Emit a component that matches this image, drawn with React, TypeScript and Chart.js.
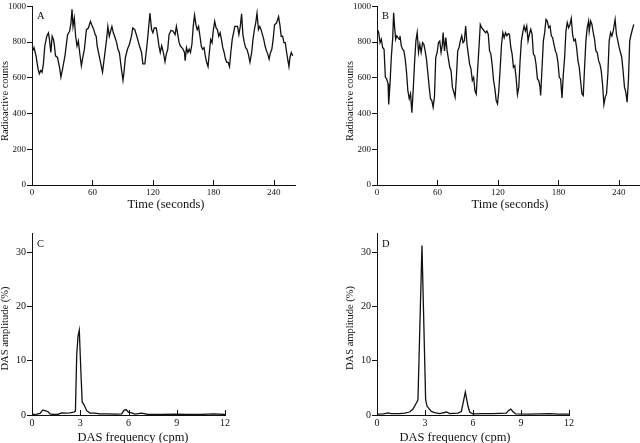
import React, { useEffect, useRef } from "react";
import { Chart, registerables } from "chart.js";

Chart.register(...registerables);

// ---- Panel A: radioactive counts over time ----
const timeA = [
  0.7, 2, 4, 6, 7.3, 8.7, 10, 11.3, 12.7, 14.7,
  16.3, 17.3, 18.7, 20, 21.3, 22.3, 23.3, 25.3, 27.3, 28.7,
  30, 32.7, 35.3, 37.3, 38.7, 39.7, 40.7, 42, 43.3, 44.7,
  46, 47.3, 49, 50.7, 52, 54, 56, 58, 59.3, 61.3,
  62.7, 63.7, 64.7, 66.7, 68.7, 70, 72, 74, 75.3, 76.7,
  78, 79.3, 80.7, 82, 84, 85.3, 86.7, 88.7, 90.3, 91.3,
  92.7, 94.7, 96.7, 98.7, 100, 102, 104, 106.7, 108.7, 110,
  112, 114, 115.3, 117, 118.7, 120, 121.3, 123.3, 124.7, 126,
  127.3, 128.7, 130.5, 132, 133.3, 134.7, 136, 138, 140, 142,
  143.3, 144.7, 146, 147.3, 148.7, 150, 151.3, 152, 153.3, 154.7,
  156, 157.3, 158.7, 160, 161.3, 162.7, 164, 165.3, 166.7, 168,
  169.3, 170.7, 172, 173.3, 174.7, 176, 177.3, 178.7, 180, 181.3,
  182.7, 184, 185.3, 186.7, 188, 189.3, 190.7, 192, 193.3, 194.7,
  196, 197.3, 198.7, 200, 201.3, 202.7, 204, 205.3, 206.7, 208,
  209.3, 210.7, 212, 213.3, 214.7, 216.3, 218, 219.3, 220.7, 222,
  223.3, 224.7, 226, 227.3, 228.7, 230, 231.3, 232.7, 234, 235.3,
  236.7, 238, 239.3, 240.7, 242.7, 244.7, 246, 247.3, 248.7, 250,
  251.3, 252.7, 254, 255, 256, 257.3, 258.7,
];
const countsA = [
  751, 769, 723, 650, 623, 641, 632, 678, 778, 833,
  852, 815, 742, 833, 815, 778, 723, 714, 659, 604,
  641, 723, 842, 861, 907, 984, 888, 934, 833, 778,
  806, 742, 668, 723, 760, 870, 879, 916, 897, 870,
  842, 833, 778, 723, 668, 632, 723, 815, 888, 833,
  861, 888, 852, 833, 797, 760, 742, 650, 586, 632,
  714, 760, 788, 833, 879, 870, 833, 778, 742, 678,
  678, 778, 852, 962, 870, 852, 879, 879, 833, 778,
  742, 780, 738, 690, 733, 760, 842, 866, 861, 842,
  888, 842, 797, 778, 769, 760, 742, 696, 769, 742,
  760, 742, 788, 888, 952, 897, 870, 888, 833, 778,
  760, 769, 723, 687, 663, 742, 815, 797, 870, 916,
  879, 870, 833, 852, 815, 769, 742, 705, 687, 687,
  663, 742, 815, 852, 888, 888, 888, 842, 888, 958,
  842, 797, 769, 760, 733, 687, 742, 815, 870, 907,
  962, 870, 888, 870, 842, 815, 778, 751, 733, 705,
  742, 760, 815, 897, 907, 943, 897, 833, 833, 797,
  797, 742, 696, 663, 714, 742, 723,
];

// ---- Panel B ----
const timeB = [
  0.3, 1.7, 3, 4.3, 5.6, 7, 8.3, 9.6, 11, 11.6,
  12.9, 14.2, 15.6, 16.5, 17.5, 18.5, 19.5, 20.8, 22.1, 22.8,
  24.1, 25.4, 26.7, 28, 29.3, 30.6, 32, 33.3, 34.6, 35.9,
  37.2, 38.6, 39.9, 41.2, 42.5, 43.8, 45.2, 46.5, 47.8, 49.1,
  50.4, 51.8, 53.1, 54.4, 55.7, 57, 58.3, 59.7, 61, 62.3,
  63.6, 64.9, 65.6, 67, 68.3, 69.6, 70.9, 72.2, 73.5, 74.8,
  76.2, 77.5, 78.8, 80.1, 81.4, 82.7, 84.1, 85.4, 86.7, 88,
  89.3, 90.6, 91.9, 93.3, 94.6, 95.9, 97.2, 98.5, 99.8, 101.2,
  102.5, 103.8, 105.1, 106.4, 107.8, 109.1, 110.4, 111.7, 113, 114.4,
  115.7, 117, 118.3, 119.6, 120.9, 122.3, 123.6, 124.9, 126.2, 127.5,
  128.9, 130.2, 131.4, 132.8, 134.1, 135.4, 136.7, 138, 139.4, 140.7,
  142, 143.3, 144.6, 146, 147.3, 148.6, 149.9, 151.2, 152.6, 153.9,
  155.2, 156.5, 157.8, 159.2, 160.5, 161.8, 162.4, 163.8, 165.1, 166.4,
  167.7, 169, 170.4, 171.7, 173, 174.3, 175.6, 177, 178.3, 179.6,
  180.9, 182.2, 183.6, 184.9, 186.2, 187.5, 188.8, 190.2, 191.5, 192.8,
  194.1, 195.4, 196.8, 198.1, 199.4, 200.7, 202, 203.4, 204.7, 206,
  207.3, 208.6, 210, 210.6, 212, 213.3, 214.6, 215.9, 217.2, 218.6,
  219.9, 221.2, 222.5, 223.8, 225.2, 226.5, 227.8, 229.1, 230.4, 231.8,
  233.1, 234.4, 236.3, 237.6, 239, 240.3, 241.6, 242.9, 244.2, 245.6,
  246.9, 248.2, 249.5, 250.8, 252.2, 253.5, 254.8,
];
const countsB = [
  872, 853, 797, 816, 770, 760, 603, 594, 566, 451,
  566, 714, 825, 964, 881, 816, 835, 825, 816, 835,
  779, 760, 751, 705, 631, 529, 483, 510, 405, 529,
  677, 807, 853, 742, 788, 742, 797, 788, 751, 705,
  631, 548, 483, 473, 436, 492, 714, 742, 797, 807,
  742, 788, 853, 751, 825, 751, 705, 659, 640, 548,
  520, 492, 603, 751, 770, 807, 835, 797, 807, 890,
  788, 733, 677, 649, 585, 603, 529, 510, 640, 770,
  899, 881, 872, 862, 853, 862, 844, 751, 733, 668,
  585, 538, 473, 455, 529, 659, 788, 853, 825, 853,
  835, 848, 844, 770, 733, 659, 668, 603, 507, 548,
  696, 807, 853, 890, 862, 890, 807, 844, 872, 844,
  733, 723, 677, 594, 585, 548, 501, 659, 807, 853,
  927, 918, 881, 890, 835, 825, 788, 751, 733, 686,
  603, 594, 488, 621, 714, 862, 909, 881, 899, 933,
  844, 807, 816, 770, 696, 659, 585, 510, 501, 659,
  807, 881, 918, 862, 918, 899, 853, 816, 751, 742,
  696, 677, 640, 566, 451, 492, 510, 621, 807, 853,
  835, 862, 927, 844, 807, 770, 742, 714, 640, 548,
  520, 464, 585, 807, 844, 872, 899,
];

// ---- Panel C: DAS spectrum ----
const freqC = [
  0, 0.3, 0.5, 0.66, 0.81, 1.0, 1.12, 1.3, 1.6, 1.84,
  2.05, 2.36, 2.6, 2.7, 2.78, 2.86, 2.94, 3.04, 3.12, 3.25,
  3.4, 3.6, 3.92, 4.2, 4.7, 5.2, 5.58, 5.72, 5.85, 6.0,
  6.2, 6.4, 6.82, 7.2, 8.0, 9.0, 9.6, 10.5, 11.3, 12,
];
const ampC = [
  0.1, 0.15, 0.3, 0.9, 0.8, 0.6, 0.2, 0.1, 0.1, 0.4,
  0.35, 0.4, 0.55, 0.7, 11, 14.5, 15.6, 8, 2.4, 1.8,
  0.8, 0.35, 0.35, 0.2, 0.2, 0.15, 0.2, 0.85, 1.0, 0.5,
  0.4, 0.15, 0.35, 0.1, 0.1, 0.15, 0.1, 0.1, 0.2, 0.1,
];

// ---- Panel D ----
const freqD = [
  0, 0.4, 0.7, 0.9, 1.4, 1.73, 2.04, 2.25, 2.46, 2.56,
  2.81, 3.04, 3.13, 3.4, 3.6, 3.92, 4.34, 4.55, 4.75, 5.06,
  5.27, 5.38, 5.52, 5.69, 5.8, 6.0, 6.63, 7.25, 7.66, 8.08,
  8.23, 8.36, 8.5, 8.67, 9.5, 10.8, 11.3, 12,
];
const ampD = [
  0.15, 0.2, 0.4, 0.25, 0.25, 0.35, 0.55, 1.1, 2.2, 2.8,
  31.2, 2.8, 1.6, 0.67, 0.43, 0.25, 0.55, 0.25, 0.3, 0.35,
  0.65, 2.2, 4.2, 1.6, 0.5, 0.2, 0.25, 0.25, 0.3, 0.35,
  0.85, 1.1, 0.6, 0.2, 0.15, 0.25, 0.15, 0.15,
];

// ---- Tick labels ----
const timeTicks = [0, 60, 120, 180, 240];
const countTicks = [0, 200, 400, 600, 800, 1000];
const freqTicks = [0, 3, 6, 9, 12];
const ampTicks = [0, 10, 20, 30];

const FONT = "'Liberation Serif', 'Times New Roman', Times, serif";
const INK = "#111";

type PanelCfg = {
  letter: string;
  xs: number[];
  ys: number[];
  xMax: number;
  yMax: number;
  xTicks: number[];
  yTicks: number[];
  xTitle: string;
  yTitle: string;
  tickSize: number;
  left: number;
  top: number;
  width: number;
  height: number;
  padTop: number;
  padRight: number;
  axisBottom: number;
  letterY: number;
  xTitlePos: [number, number];
  yTitlePos: [number, number];
};

function makeDecor(cfg: PanelCfg) {
  return {
    id: "decor",
    afterDraw(chart: any) {
      const { ctx, chartArea, scales } = chart;
      const xs = scales.x;
      ctx.save();
      ctx.strokeStyle = INK;
      ctx.lineWidth = 1;
      xs.ticks.forEach((t: any) => {
        const px = Math.round(xs.getPixelForValue(t.value)) + 0.5;
        ctx.beginPath();
        ctx.moveTo(px, chartArea.bottom);
        ctx.lineTo(px, chartArea.bottom - 5);
        ctx.stroke();
      });
      ctx.fillStyle = INK;
      ctx.font = `10.5px ${FONT}`;
      ctx.textAlign = "left";
      ctx.textBaseline = "alphabetic";
      ctx.fillText(cfg.letter, chartArea.left + 5, cfg.letterY);

      ctx.font = `12.5px ${FONT}`;
      ctx.textAlign = "center";
      ctx.textBaseline = "middle";
      ctx.fillText(cfg.xTitle, cfg.xTitlePos[0], cfg.xTitlePos[1]);

      ctx.save();
      ctx.translate(cfg.yTitlePos[0], cfg.yTitlePos[1]);
      ctx.rotate(-Math.PI / 2);
      ctx.font = `10.5px ${FONT}`;
      ctx.fillText(cfg.yTitle, 0, 0);
      ctx.restore();
      ctx.restore();
    },
  };
}

function Panel({ cfg }: { cfg: PanelCfg }) {
  const ref = useRef<HTMLCanvasElement | null>(null);
  useEffect(() => {
    if (!ref.current) return;
    const n = Math.min(cfg.xs.length, cfg.ys.length);
    const pts = [];
    for (let i = 0; i < n; i++) pts.push({ x: cfg.xs[i], y: cfg.ys[i] });
    const tickFont = { family: FONT, size: cfg.tickSize };
    const plain = (v: any) => String(v);
    const chart = new Chart(ref.current, {
      type: "line",
      data: {
        datasets: [
          {
            data: pts,
            borderColor: INK,
            borderWidth: 1.3,
            pointRadius: 0,
            tension: 0,
            fill: false,
          },
        ],
      },
      options: {
        responsive: false,
        animation: false,
        devicePixelRatio: 1,
        events: [],
        layout: {
          padding: { left: 0, top: cfg.padTop, right: cfg.padRight, bottom: 0 },
        },
        plugins: {
          legend: { display: false },
          tooltip: { enabled: false },
          title: { display: false },
        },
        scales: {
          x: {
            type: "linear",
            min: 0,
            max: cfg.xMax,
            afterFit: (s: any) => {
              s.height = cfg.height - cfg.axisBottom;
            },
            afterBuildTicks: (s: any) => {
              s.ticks = cfg.xTicks.map((v) => ({ value: v }));
            },
            grid: { display: false, drawTicks: false },
            border: { display: true, color: INK, width: 1 },
            ticks: {
              padding: 2,
              color: INK,
              font: tickFont,
              maxRotation: 0,
              autoSkip: false,
              includeBounds: false,
              callback: plain,
            },
          },
          y: {
            type: "linear",
            min: 0,
            max: cfg.yMax,
            afterFit: (s: any) => {
              s.width = 32;
            },
            afterBuildTicks: (s: any) => {
              s.ticks = cfg.yTicks.map((v) => ({ value: v }));
            },
            grid: {
              display: true,
              drawOnChartArea: false,
              drawTicks: true,
              tickLength: 5,
              color: INK,
              lineWidth: 1,
            },
            border: { display: true, color: INK, width: 1 },
            ticks: {
              padding: 1,
              color: INK,
              font: tickFont,
              autoSkip: false,
              includeBounds: false,
              callback: plain,
            },
          },
        },
      },
      plugins: [makeDecor(cfg)],
    } as any);
    return () => chart.destroy();
  }, [cfg]);
  return (
    <canvas
      ref={ref}
      width={cfg.width}
      height={cfg.height}
      style={{
        position: "absolute",
        left: cfg.left,
        top: cfg.top,
        width: cfg.width,
        height: cfg.height,
        display: "block",
      }}
    />
  );
}

const panels: PanelCfg[] = [
  {
    letter: "A", xs: timeA, ys: countsA, xMax: 261, yMax: 1000,
    xTicks: timeTicks, yTicks: countTicks,
    xTitle: "Time (seconds)", yTitle: "Radioactive counts", tickSize: 9,
    left: 0, top: 0, width: 320, height: 222,
    padTop: 3, padRight: 25, axisBottom: 185, letterY: 18.5,
    xTitlePos: [166, 205], yTitlePos: [5, 101],
  },
  {
    letter: "B", xs: timeB, ys: countsB, xMax: 261, yMax: 1000,
    xTicks: timeTicks, yTicks: countTicks,
    xTitle: "Time (seconds)", yTitle: "Radioactive counts", tickSize: 9,
    left: 345, top: 0, width: 295, height: 222,
    padTop: 5, padRight: 0, axisBottom: 185, letterY: 18.5,
    xTitlePos: [165, 205], yTitlePos: [5, 101],
  },
  {
    letter: "C", xs: freqC, ys: ampC, xMax: 12, yMax: 33.5,
    xTicks: freqTicks, yTicks: ampTicks,
    xTitle: "DAS frequency (cpm)", yTitle: "DAS amplitude (%)", tickSize: 10,
    left: 0, top: 222, width: 320, height: 221,
    padTop: 11, padRight: 95, axisBottom: 193, letterY: 24.5,
    xTitlePos: [133, 216], yTitlePos: [5, 106.5],
  },
  {
    letter: "D", xs: freqD, ys: ampD, xMax: 12, yMax: 33.5,
    xTicks: freqTicks, yTicks: ampTicks,
    xTitle: "DAS frequency (cpm)", yTitle: "DAS amplitude (%)", tickSize: 10,
    left: 345, top: 222, width: 295, height: 221,
    padTop: 11, padRight: 71, axisBottom: 193, letterY: 24.5,
    xTitlePos: [110, 216], yTitlePos: [5, 106],
  },
];

export default function App() {
  return (
    <div
      style={{
        position: "absolute",
        left: 0,
        top: 0,
        width: 640,
        height: 443,
        background: "#fff",
        overflow: "hidden",
      }}
    >
      {panels.map((p) => (
        <Panel key={p.letter} cfg={p} />
      ))}
    </div>
  );
}
